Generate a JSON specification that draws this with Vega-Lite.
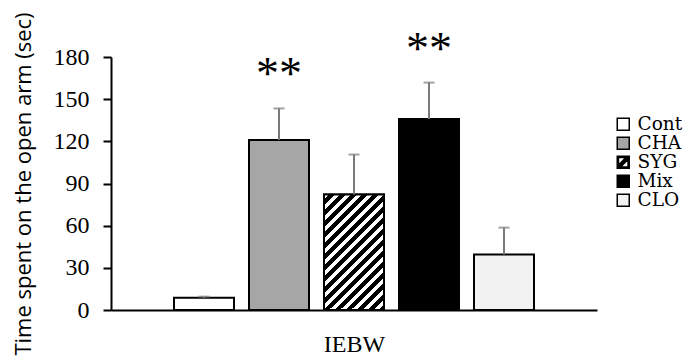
{
  "$schema": "https://vega.github.io/schema/vega-lite/v6.json",
  "width": 486,
  "height": 253,
  "autosize": "none",
  "padding": {"left": 111, "top": 57, "right": 97, "bottom": 47},
  "background": "white",
  "config": {
    "view": {"stroke": null},
    "legend": {
      "title": null,
      "orient": "none",
      "legendX": 503,
      "legendY": 58,
      "padding": 0,
      "symbolSize": 144,
      "symbolStrokeColor": "black",
      "symbolStrokeWidth": 1.5,
      "symbolOpacity": 1,
      "labelFont": "DejaVu Serif",
      "labelFontSize": 18.5,
      "labelColor": "black",
      "labelOffset": 5,
      "rowPadding": 0
    }
  },
  "data": {
    "values": [
      {"group": "Cont", "mean": 8.7, "upper": 9.5, "sig": ""},
      {"group": "CHA", "mean": 121, "upper": 143.4, "sig": "**"},
      {"group": "SYG", "mean": 82.2, "upper": 110.6, "sig": ""},
      {"group": "Mix", "mean": 135.9, "upper": 161.8, "sig": "**"},
      {"group": "CLO", "mean": 39.5, "upper": 58.6, "sig": ""}
    ]
  },
  "encoding": {
    "x": {
      "field": "group",
      "type": "nominal",
      "sort": ["Cont", "CHA", "SYG", "Mix", "CLO"],
      "scale": {"paddingInner": 0.2, "paddingOuter": 0.84},
      "axis": {
        "title": "IEBW",
        "labels": false,
        "ticks": false,
        "domainColor": "black",
        "domainWidth": 2,
        "titleFont": "Liberation Serif",
        "titleFontSize": 24,
        "titleFontWeight": "normal",
        "titleColor": "black",
        "titlePadding": 22
      }
    }
  },
  "layer": [
    {
      "mark": {"type": "bar", "stroke": "black", "strokeWidth": 2},
      "encoding": {
        "y": {
          "field": "mean",
          "type": "quantitative",
          "scale": {"domain": [0, 180], "nice": false},
          "axis": {
            "title": "Time spent on the open arm (sec)",
            "values": [0, 30, 60, 90, 120, 150, 180],
            "grid": false,
            "domainColor": "black",
            "domainWidth": 2,
            "tickColor": "black",
            "tickWidth": 2,
            "tickSize": 8,
            "labelFont": "Liberation Serif",
            "labelFontSize": 24,
            "labelColor": "black",
            "labelPadding": 14,
            "titleFont": "Open Sans",
            "titleFontSize": 22,
            "titleFontWeight": 500,
            "titleColor": "black",
            "titleX": -76,
            "titleY": 126.5,
            "titleBaseline": "bottom"
          }
        },
        "fill": {
          "field": "group",
          "type": "nominal",
          "scale": {
            "domain": ["Cont", "CHA", "SYG", "Mix", "CLO"],
            "range": ["#ffffff", "#a6a6a6", "#000000", "#000000", "#f2f2f2"]
          },
          "legend": {
            "symbolStrokeColor": "black",
            "symbolStrokeWidth": 1.5,
            "encoding": {
              "symbols": {
                "stroke": {"value": "black"},
                "strokeWidth": {"value": 1.5}
              }
            }
          }
        }
      }
    },
    {
      "transform": [{"filter": "datum.group === 'SYG'"}],
      "mark": {
        "type": "bar",
        "stroke": "black",
        "strokeWidth": 2,
        "fill": {
          "gradient": "linear", "x1": 0, "y1": 0, "x2": 0.619, "y2": 1.197,
          "stops": [
            {"offset": 0, "color": "white"}, {"offset": 0.03125, "color": "white"}, {"offset": 0.03125, "color": "black"}, {"offset": 0.0625, "color": "black"},
            {"offset": 0.0625, "color": "white"}, {"offset": 0.09375, "color": "white"}, {"offset": 0.09375, "color": "black"}, {"offset": 0.125, "color": "black"},
            {"offset": 0.125, "color": "white"}, {"offset": 0.15625, "color": "white"}, {"offset": 0.15625, "color": "black"}, {"offset": 0.1875, "color": "black"},
            {"offset": 0.1875, "color": "white"}, {"offset": 0.21875, "color": "white"}, {"offset": 0.21875, "color": "black"}, {"offset": 0.25, "color": "black"},
            {"offset": 0.25, "color": "white"}, {"offset": 0.28125, "color": "white"}, {"offset": 0.28125, "color": "black"}, {"offset": 0.3125, "color": "black"},
            {"offset": 0.3125, "color": "white"}, {"offset": 0.34375, "color": "white"}, {"offset": 0.34375, "color": "black"}, {"offset": 0.375, "color": "black"},
            {"offset": 0.375, "color": "white"}, {"offset": 0.40625, "color": "white"}, {"offset": 0.40625, "color": "black"}, {"offset": 0.4375, "color": "black"},
            {"offset": 0.4375, "color": "white"}, {"offset": 0.46875, "color": "white"}, {"offset": 0.46875, "color": "black"}, {"offset": 0.5, "color": "black"},
            {"offset": 0.5, "color": "white"}, {"offset": 0.53125, "color": "white"}, {"offset": 0.53125, "color": "black"}, {"offset": 0.5625, "color": "black"},
            {"offset": 0.5625, "color": "white"}, {"offset": 0.59375, "color": "white"}, {"offset": 0.59375, "color": "black"}, {"offset": 0.625, "color": "black"},
            {"offset": 0.625, "color": "white"}, {"offset": 0.65625, "color": "white"}, {"offset": 0.65625, "color": "black"}, {"offset": 0.6875, "color": "black"},
            {"offset": 0.6875, "color": "white"}, {"offset": 0.71875, "color": "white"}, {"offset": 0.71875, "color": "black"}, {"offset": 0.75, "color": "black"},
            {"offset": 0.75, "color": "white"}, {"offset": 0.78125, "color": "white"}, {"offset": 0.78125, "color": "black"}, {"offset": 0.8125, "color": "black"},
            {"offset": 0.8125, "color": "white"}, {"offset": 0.84375, "color": "white"}, {"offset": 0.84375, "color": "black"}, {"offset": 0.875, "color": "black"},
            {"offset": 0.875, "color": "white"}, {"offset": 0.90625, "color": "white"}, {"offset": 0.90625, "color": "black"}, {"offset": 0.9375, "color": "black"},
            {"offset": 0.9375, "color": "white"}, {"offset": 0.96875, "color": "white"}, {"offset": 0.96875, "color": "black"}, {"offset": 1, "color": "black"}
          ]
        }
      },
      "encoding": {
        "y": {"field": "mean", "type": "quantitative"}
      }
    },
    {
      "mark": {"type": "point", "filled": true, "opacity": 0},
      "encoding": {
        "y": {"field": "mean", "type": "quantitative"},
        "shape": {
          "field": "group",
          "type": "nominal",
          "scale": {
            "domain": ["Cont", "CHA", "SYG", "Mix", "CLO"],
            "range": ["square", "square", "M-1,-1H1V1H-1Z M-0.8,-0.8V0.8H0.8V-0.8Z M-0.8,0.45L0.45,-0.8H0.8V-0.45L-0.45,0.8H-0.8Z", "square", "square"]
          },
          "legend": {
            "symbolStrokeColor": "black",
            "symbolStrokeWidth": 1.5,
            "encoding": {
              "symbols": {
                "stroke": {"value": "black"},
                "strokeWidth": {"value": 1.5}
              }
            }
          }
        }
      }
    },
    {
      "mark": {"type": "rule", "color": "#7a7a7a", "strokeWidth": 2},
      "encoding": {
        "y": {"field": "mean", "type": "quantitative"},
        "y2": {"field": "upper"}
      }
    },
    {
      "mark": {"type": "tick", "color": "#7a7a7a", "thickness": 2, "size": 11, "orient": "horizontal"},
      "encoding": {
        "y": {"field": "upper", "type": "quantitative"}
      }
    },
    {
      "mark": {"type": "text", "font": "Liberation Serif", "fontSize": 46, "baseline": "alphabetic", "dy": -19, "color": "black"},
      "encoding": {
        "y": {"field": "upper", "type": "quantitative"},
        "text": {"field": "sig"}
      }
    }
  ]
}
